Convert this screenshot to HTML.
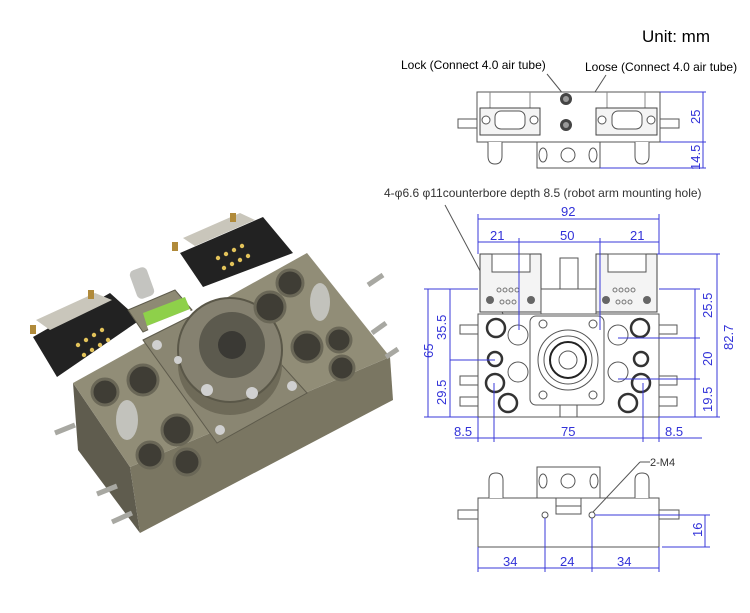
<!DOCTYPE html>
<html><head><meta charset="utf-8"><style>
html,body{margin:0;padding:0;background:#fff;width:750px;height:613px;overflow:hidden}
svg{display:block}
text{font-family:"Liberation Sans",sans-serif}
.d{fill:#3232d8;font-size:13px}
.l{stroke:#3a3ad8;stroke-width:1;fill:none}
.k{stroke:#555;stroke-width:1;fill:#fff}
.k2{stroke:#444;stroke-width:1;fill:#f4f4f4}
</style></head><body>
<svg width="750" height="613" viewBox="0 0 750 613">
<!-- PHOTO -->
<g>
 <polygon points="73,383 130,467 140,533 78,450" fill="#5f5c4e"/>
 <polygon points="130,467 390,357 393,400 140,533" fill="#7a7662"/>
 <polygon points="73,383 307,253 390,357 130,467" fill="#918d77"/>
 <!-- connectors -->
 <polygon points="33,337 110,293 140,320 57,377" fill="#222"/>
 <polygon points="36,320 95,293 112,300 50,330" fill="#c9c6bb"/>
 <polygon points="180,253 263,217 293,253 203,287" fill="#222"/>
 <polygon points="183,238 240,213 255,220 195,246" fill="#c9c6bb"/>
 <g fill="#e3c35a">
  <circle cx="78" cy="345" r="2.2"/><circle cx="86" cy="340" r="2.2"/><circle cx="94" cy="335" r="2.2"/><circle cx="102" cy="330" r="2.2"/><circle cx="84" cy="355" r="2.2"/><circle cx="92" cy="350" r="2.2"/><circle cx="100" cy="345" r="2.2"/><circle cx="108" cy="340" r="2.2"/>
  <circle cx="218" cy="258" r="2.2"/><circle cx="226" cy="254" r="2.2"/><circle cx="234" cy="250" r="2.2"/><circle cx="242" cy="246" r="2.2"/><circle cx="224" cy="268" r="2.2"/><circle cx="232" cy="264" r="2.2"/><circle cx="240" cy="260" r="2.2"/><circle cx="248" cy="256" r="2.2"/>
 </g>
 <g fill="#b08a3a"><rect x="30" y="325" width="6" height="9"/><rect x="88" y="290" width="6" height="9"/><rect x="172" y="242" width="6" height="9"/><rect x="230" y="213" width="6" height="9"/></g>
 <!-- air fitting -->
 <rect x="133" y="268" width="18" height="30" rx="5" fill="#c4c4c0" transform="rotate(-20 142 283)"/>
 <!-- label plate -->
 <polygon points="128,310 175,290 192,310 143,332" fill="#8e8a74" stroke="#5e5b4c"/>
 <polygon points="143,313 185,297 190,309 147,326" fill="#8ed04a"/>
 <polygon points="147,326 190,309 193,318 150,335" fill="#fff"/>
 <!-- center plate -->
 <polygon points="143,340 223,300 307,393 217,443" fill="#8a8672" stroke="#5e5b4c"/>
 <ellipse cx="230" cy="365" rx="52" ry="50" fill="#6e6a58"/>
 <circle cx="230" cy="350" r="52" fill="#858170" stroke="#5a5748" stroke-width="2"/>
 <circle cx="232" cy="345" r="33" fill="#5c5a4e"/>
 <circle cx="232" cy="345" r="14" fill="#3a3934"/>
 <g fill="#d0d0d0"><circle cx="207" cy="390" r="6"/><circle cx="252" cy="393" r="6"/><circle cx="157" cy="345" r="5"/><circle cx="292" cy="386" r="5"/><circle cx="220" cy="430" r="5"/><circle cx="178" cy="360" r="4"/></g>
 <!-- holes -->
 <g fill="#3f3d35" stroke="#6a6757" stroke-width="3">
  <circle cx="105" cy="392" r="13"/><circle cx="143" cy="380" r="15"/><circle cx="177" cy="430" r="15"/><circle cx="150" cy="455" r="13"/><circle cx="187" cy="462" r="13"/>
  <circle cx="270" cy="307" r="15"/><circle cx="290" cy="283" r="13"/><circle cx="307" cy="347" r="15"/><circle cx="339" cy="340" r="12"/><circle cx="342" cy="368" r="12"/>
 </g>
 <g fill="#c2c2bc"><ellipse cx="127" cy="420" rx="11" ry="20"/><ellipse cx="320" cy="302" rx="10" ry="19"/></g>
 <g stroke="#a8a8a2" stroke-width="5"><line x1="55" y1="433" x2="75" y2="425"/><line x1="97" y1="494" x2="117" y2="486"/><line x1="112" y1="522" x2="132" y2="513"/><line x1="368" y1="285" x2="383" y2="275"/><line x1="372" y1="333" x2="386" y2="323"/><line x1="386" y1="357" x2="398" y2="349"/></g>
</g>

<!-- TEXT -->
<text x="642" y="42" font-size="17" fill="#000">Unit: mm</text>
<text x="401" y="69" font-size="12" fill="#000">Lock (Connect 4.0 air tube)</text>
<text x="585" y="71" font-size="12" fill="#000">Loose (Connect 4.0 air tube)</text>
<text x="384" y="197" font-size="12" fill="#333">4-φ6.6  φ11counterbore depth 8.5 (robot arm mounting hole)</text>
<line x1="547" y1="74" x2="564" y2="95" stroke="#555"/>
<line x1="606" y1="75" x2="575" y2="123" stroke="#555"/>
<line x1="445" y1="205" x2="510" y2="327" stroke="#555"/>

<!-- TOP VIEW -->
<g>
 <rect x="477" y="92" width="183" height="50" class="k"/>
 <line x1="490" y1="92" x2="490" y2="108" stroke="#888"/><line x1="530" y1="92" x2="530" y2="108" stroke="#888"/>
 <line x1="607" y1="92" x2="607" y2="108" stroke="#888"/><line x1="645" y1="92" x2="645" y2="108" stroke="#888"/>
 <rect x="480" y="108" width="60" height="27" class="k2"/>
 <rect x="596" y="108" width="61" height="27" class="k2"/>
 <rect x="495" y="111" width="30" height="18" rx="6" class="k"/><rect x="612" y="111" width="30" height="18" rx="6" class="k"/>
 <circle cx="486" cy="120" r="4" class="k"/><circle cx="534" cy="120" r="4" class="k"/><circle cx="602" cy="120" r="4" class="k"/><circle cx="651" cy="120" r="4" class="k"/>
 <circle cx="566" cy="99" r="6" fill="#444"/><circle cx="566" cy="99" r="3" fill="#999"/>
 <circle cx="566" cy="125" r="6" fill="#444"/><circle cx="566" cy="125" r="3" fill="#999"/>
 <rect x="537" y="142" width="63" height="26" class="k"/>
 <circle cx="568" cy="155" r="7" class="k"/><ellipse cx="543" cy="155" rx="4" ry="7" class="k"/><ellipse cx="593" cy="155" rx="4" ry="7" class="k"/>
 <path d="M488 142 v14 q0 8 7 8 q7 0 7 -8 v-14" class="k"/><path d="M635 142 v14 q0 8 7 8 q7 0 7 -8 v-14" class="k"/>
 <rect x="458" y="119" width="19" height="9" class="k"/><rect x="660" y="119" width="19" height="9" class="k"/>
 <path class="l" d="M660 92 H706 M660 142 H706 M600 168 H706 M703 92 V168"/>
 <text class="d" transform="translate(700 124) rotate(-90)">25</text>
 <text class="d" transform="translate(700 170) rotate(-90)">14.5</text>
</g>

<!-- FRONT VIEW -->
<g>
 <rect x="478" y="314" width="181" height="103" class="k"/>
 <rect x="480" y="254" width="61" height="58" class="k2"/>
 <rect x="596" y="254" width="61" height="58" class="k2"/>
 <rect x="492" y="254" width="38" height="18" class="k"/><rect x="608" y="254" width="38" height="18" class="k"/>
 <g fill="#666"><circle cx="490" cy="300" r="4"/><circle cx="531" cy="300" r="4"/><circle cx="606" cy="300" r="4"/><circle cx="647" cy="300" r="4"/></g>
 <g fill="none" stroke="#777"><circle cx="499" cy="290" r="2"/><circle cx="505" cy="290" r="2"/><circle cx="511" cy="290" r="2"/><circle cx="517" cy="290" r="2"/><circle cx="502" cy="302" r="2"/><circle cx="508" cy="302" r="2"/><circle cx="514" cy="302" r="2"/>
 <circle cx="615" cy="290" r="2"/><circle cx="621" cy="290" r="2"/><circle cx="627" cy="290" r="2"/><circle cx="633" cy="290" r="2"/><circle cx="618" cy="302" r="2"/><circle cx="624" cy="302" r="2"/><circle cx="630" cy="302" r="2"/></g>
 <rect x="541" y="289" width="55" height="25" class="k"/>
 <rect x="560" y="258" width="18" height="31" class="k"/>
 <rect x="530" y="316" width="74" height="89" rx="6" class="k"/>
 <rect x="560" y="405" width="17" height="12" class="k"/>
 <circle cx="568" cy="360" r="30" class="k"/><circle cx="568" cy="360" r="24" class="k"/><circle cx="568" cy="360" r="18" fill="none" stroke="#222" stroke-width="2"/><circle cx="568" cy="360" r="9" class="k"/>
 <g fill="#fff" stroke="#333" stroke-width="2.5">
  <circle cx="496" cy="328" r="9"/><circle cx="495" cy="359" r="7"/><circle cx="495" cy="383" r="9"/><circle cx="508" cy="403" r="9"/>
  <circle cx="640" cy="328" r="9"/><circle cx="641" cy="359" r="7"/><circle cx="641" cy="383" r="9"/><circle cx="628" cy="403" r="9"/>
 </g>
 <g class="k"><circle cx="518" cy="335" r="10"/><circle cx="518" cy="372" r="10"/><circle cx="618" cy="335" r="10"/><circle cx="618" cy="372" r="10"/>
 <circle cx="543" cy="324" r="4"/><circle cx="593" cy="324" r="4"/><circle cx="543" cy="395" r="4"/><circle cx="593" cy="395" r="4"/></g>
 <g class="k"><rect x="460" y="325" width="18" height="9"/><rect x="460" y="376" width="18" height="9"/><rect x="460" y="397" width="18" height="9"/>
 <rect x="659" y="325" width="18" height="9"/><rect x="659" y="376" width="18" height="9"/><rect x="659" y="397" width="18" height="9"/></g>
 <path class="l" d="M478 219 H659 M478 242 H659 M478 214 V254 M659 214 V254 M519 238 V330 M600 238 V330"/>
 <text class="d" x="561" y="216">92</text>
 <text class="d" x="490" y="240">21</text><text class="d" x="560" y="240">50</text><text class="d" x="630" y="240">21</text>
 <path class="l" d="M428 289 V417 M450 289 V417 M424 289 H478 M450 360 H495 M424 417 H478 M657 254 H720 M717 254 V417 M659 289 H700 M695 289 V417 M618 338 H700 M618 379 H700 M659 417 H720"/>
 <text class="d" transform="translate(433 358) rotate(-90)">65</text>
 <text class="d" transform="translate(446 340) rotate(-90)">35.5</text>
 <text class="d" transform="translate(446 405) rotate(-90)">29.5</text>
 <text class="d" transform="translate(712 318) rotate(-90)">25.5</text>
 <text class="d" transform="translate(712 366) rotate(-90)">20</text>
 <text class="d" transform="translate(712 412) rotate(-90)">19.5</text>
 <text class="d" transform="translate(733 350) rotate(-90)">82.7</text>
 <path class="l" d="M478 417 V442 M494 383 V442 M643 383 V442 M659 417 V442 M455 438 H702"/>
 <text class="d" x="454" y="436">8.5</text><text class="d" x="561" y="436">75</text><text class="d" x="665" y="436">8.5</text>
</g>

<!-- SIDE VIEW -->
<g>
 <rect x="478" y="498" width="181" height="49" class="k"/>
 <rect x="537" y="467" width="63" height="31" class="k"/>
 <circle cx="568" cy="481" r="7" class="k"/><ellipse cx="543" cy="481" rx="4" ry="7" class="k"/><ellipse cx="594" cy="481" rx="4" ry="7" class="k"/>
 <rect x="556" y="498" width="25" height="16" class="k"/><line x1="556" y1="506" x2="581" y2="506" stroke="#555"/>
 <path d="M489 498 v-18 q0 -7 7 -7 q7 0 7 7 v18" class="k"/><path d="M635 498 v-18 q0 -7 7 -7 q7 0 7 7 v18" class="k"/>
 <circle cx="545" cy="515" r="3" class="k"/><circle cx="592" cy="515" r="3" class="k"/>
 <rect x="458" y="510" width="20" height="9" class="k"/><rect x="659" y="510" width="20" height="9" class="k"/>
 <line x1="593" y1="512" x2="640" y2="462" stroke="#555"/><line x1="640" y1="462" x2="650" y2="462" stroke="#555"/>
 <text x="650" y="466" font-size="11" fill="#333">2-M4</text>
 <path class="l" d="M478 547 V572 M545 518 V572 M592 518 V572 M659 547 V572 M478 568 H659 M595 515 H710 M662 547 H710 M705 515 V547"/>
 <text class="d" x="503" y="566">34</text><text class="d" x="560" y="566">24</text><text class="d" x="617" y="566">34</text>
 <text class="d" transform="translate(702 537) rotate(-90)">16</text>
</g>
</svg>
</body></html>
